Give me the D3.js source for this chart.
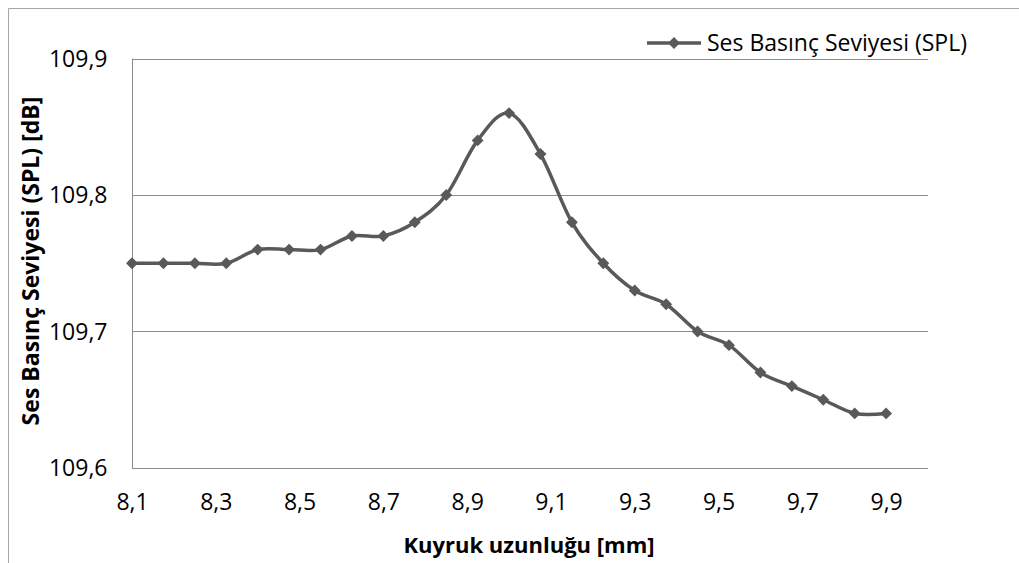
<!DOCTYPE html>
<html>
<head>
<meta charset="utf-8">
<script src="https://cdn.jsdelivr.net/npm/d3@7"></script>
<style>
    body { margin: 0; background: #fff; }
    text { font-family: 'Open Sans', sans-serif; fill: #000; }
</style>
</head>
<body>
<div id="root"></div>
<script>
let lengths = [8.1, 8.175, 8.25, 8.325, 8.4, 8.475, 8.55, 8.625, 8.7, 8.775, 8.85, 8.925, 9.0,
    9.075, 9.15, 9.225, 9.3, 9.375, 9.45, 9.525, 9.6, 9.675, 9.75, 9.825, 9.9];
let spl = [109.75, 109.75, 109.75, 109.75, 109.76, 109.76, 109.76, 109.77, 109.77, 109.78, 109.80, 109.84, 109.86,
    109.83, 109.78, 109.75, 109.73, 109.72, 109.70, 109.69, 109.67, 109.66, 109.65, 109.64, 109.64];
let xTicks = [8.1, 8.3, 8.5, 8.7, 8.9, 9.1, 9.3, 9.5, 9.7, 9.9];
let yTicks = [109.6, 109.7, 109.8, 109.9];
let seriesName = 'Ses Basınç Seviyesi (SPL)';
let xTitle = 'Kuyruk uzunluğu [mm]';
let yTitle = 'Ses Basınç Seviyesi (SPL) [dB]';

let points = lengths.map((x, i) => ({x: x, y: spl[i]}));

let plot = {left: 132, right: 928, top: 58.5, bottom: 468};
let color = '#595959';

let svg = d3.select('#root').append('svg')
    .attr('width', 1019)
    .attr('height', 563);

let x = d3.scaleLinear().domain([8.1, 10.0]).range([plot.left, plot.right]);
let y = d3.scaleLinear().domain([109.6, 109.9]).range([plot.bottom, plot.top]);

let fmt = d => d3.format('.1f')(d).replace('.', ',');

// chart frame
svg.append('path')
    .attr('d', 'M8.5,563 V8.5 H1019')
    .attr('fill', 'none')
    .attr('stroke', '#a6a6a6')
    .attr('stroke-width', 1);

// gridlines
svg.append('g')
    .selectAll('line')
    .data(yTicks)
    .join('line')
    .attr('x1', plot.left)
    .attr('x2', plot.right)
    .attr('y1', d => Math.round(y(d)) + 0.5)
    .attr('y2', d => Math.round(y(d)) + 0.5)
    .attr('stroke', '#8c8c8c')
    .attr('stroke-width', 1);

let xAxis = svg.append('g')
    .attr('transform', `translate(0,${Math.round(plot.bottom) + 0.5})`)
    .call(d3.axisBottom(x).tickValues(xTicks).tickSize(0).tickPadding(25).tickFormat(fmt));
xAxis.select('.domain').attr('stroke', '#8c8c8c').attr('d', `M${plot.left},0H${plot.right}`);
xAxis.selectAll('text').style('font-size', '23px').attr('dy', '0.71em');

let yAxis = svg.append('g')
    .attr('transform', `translate(${Math.round(plot.left) + 0.5},0)`)
    .call(d3.axisLeft(y).tickValues(yTicks).tickSize(0).tickPadding(25).tickFormat(fmt));
yAxis.select('.domain').attr('stroke', '#8c8c8c').attr('d', `M0,${plot.top}V${plot.bottom}`);
yAxis.selectAll('text').style('font-size', '23px').attr('dy', '0.34em');

// series line
svg.append('path')
    .datum(points)
    .attr('d', d3.line()
        .x(d => x(d.x))
        .y(d => y(d.y))
        .curve(d3.curveCatmullRom.alpha(0)))
    .attr('fill', 'none')
    .attr('stroke', color)
    .attr('stroke-width', 3.5);

let diamond = d3.symbol().type(d3.symbolDiamond2).size(90);

svg.append('g')
    .selectAll('path')
    .data(points)
    .join('path')
    .attr('transform', d => `translate(${x(d.x)},${y(d.y)})`)
    .attr('d', diamond)
    .attr('fill', color);

// axis titles
svg.append('text')
    .attr('x', 529)
    .attr('y', 553)
    .attr('text-anchor', 'middle')
    .style('font-size', '22px')
    .style('font-weight', 'bold')
    .text(xTitle);

svg.append('text')
    .attr('transform', 'translate(39,261) rotate(-90)')
    .attr('text-anchor', 'middle')
    .style('font-size', '23px')
    .style('font-weight', 'bold')
    .text(yTitle);

// legend
let legend = svg.append('g').attr('transform', 'translate(647,43)');
legend.append('line')
    .attr('x1', 0).attr('x2', 54)
    .attr('stroke', color)
    .attr('stroke-width', 3.5);
legend.append('path')
    .attr('transform', 'translate(27,0)')
    .attr('d', diamond)
    .attr('fill', color);
legend.append('text')
    .attr('x', 60)
    .attr('dy', '0.35em')
    .style('font-size', '23px')
    .text(seriesName);
</script>
</body>
</html>
